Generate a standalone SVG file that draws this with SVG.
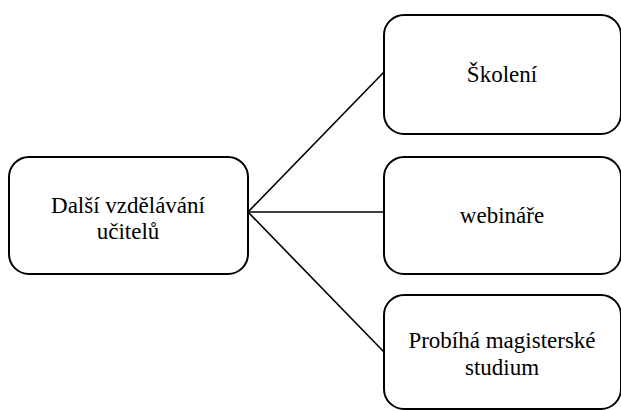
<svg xmlns="http://www.w3.org/2000/svg" width="621" height="410" viewBox="0 0 621 410">
<style>
.box{fill:#fff;stroke:#000;stroke-width:2}
.t{font-family:'Liberation Serif','Times New Roman',serif;font-size:23px;fill:#000;text-anchor:middle}
.c{stroke:#000;stroke-width:1.6;fill:none}
</style>
<rect width="621" height="410" fill="#fff"/>
<g id="connectors">
<line class="c" x1="248" y1="212" x2="384" y2="72"/>
<line class="c" x1="248" y1="212" x2="384" y2="212"/>
<line class="c" x1="248" y1="212" x2="384" y2="352"/>
</g>
<g id="n-main">
<rect class="box" x="9" y="157" width="239" height="117" rx="20"/>
<text class="t" x="128" y="213">Další vzdělávání</text>
<text class="t" x="128" y="239">učitelů</text>
</g>
<g id="n-skoleni">
<rect class="box" x="384" y="15" width="237" height="119" rx="20"/>
<text class="t" x="502" y="82">Školení</text>
</g>
<g id="n-webinare">
<rect class="box" x="384" y="157" width="237" height="117" rx="20"/>
<text class="t" x="502" y="223">webináře</text>
</g>
<g id="n-studium">
<rect class="box" x="384" y="295" width="237" height="114" rx="20"/>
<text class="t" x="502" y="348">Probíhá magisterské</text>
<text class="t" x="502" y="375">studium</text>
</g>
</svg>
